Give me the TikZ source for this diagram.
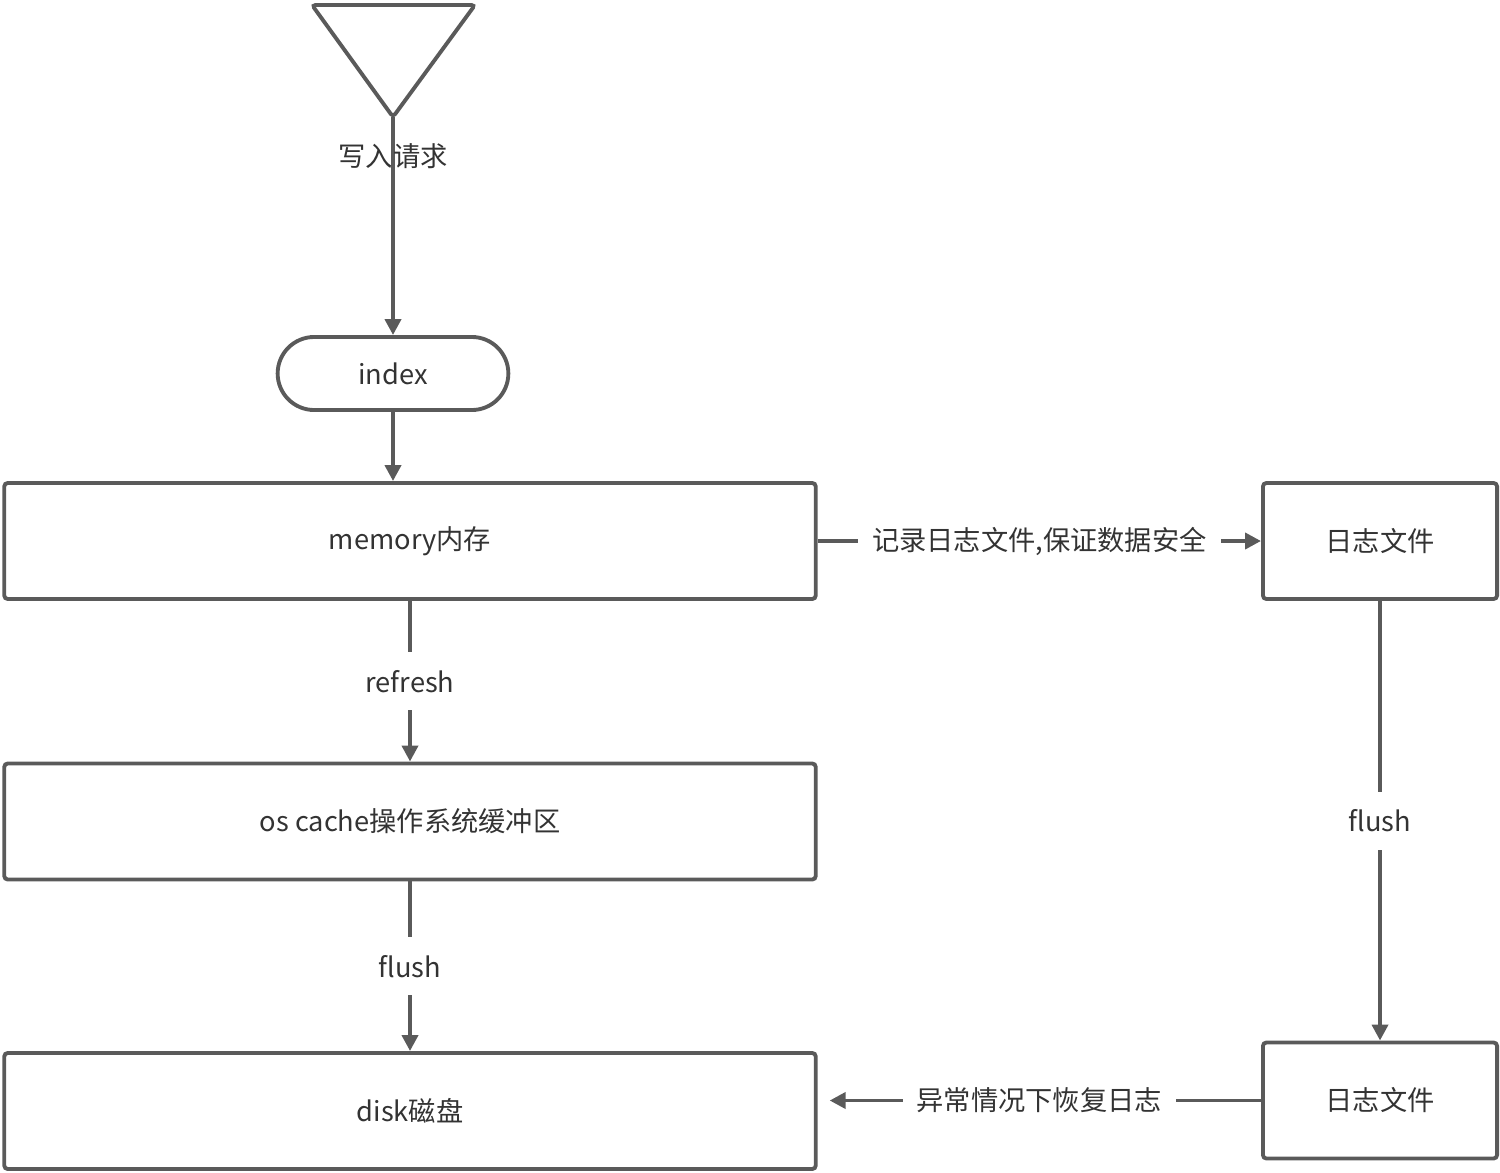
\documentclass[tikz,border=0pt]{standalone}
\usepackage{fontspec}
\setmainfont{Noto Sans CJK SC}
\usetikzlibrary{arrows.meta,shapes.misc}
\definecolor{linegray}{HTML}{5A5A5A}
\definecolor{textgray}{HTML}{333333}

\begin{document}
\begin{tikzpicture}[
    x=0.01cm,y=-0.01cm,
    box/.style={draw=linegray, line width=1.1pt, rounded corners=1pt, align=center,
      font=\fontsize{7.75}{9}\selectfont, text=textgray, minimum height=1.16cm},
    pill/.style={draw=linegray, line width=1.1pt, rounded rectangle, align=center,
      font=\fontsize{7.75}{9}\selectfont, text=textgray,
      minimum width=2.54cm, minimum height=0.73cm},
    outline/.style={draw=linegray, line width=1.1pt, rounded corners=1pt},
    edge/.style={-{Triangle[length=4.5pt,width=4.5pt]}, draw=linegray, line width=1.1pt},
    lbl/.style={font=\fontsize{7.75}{9}\selectfont, text=textgray},
    gap/.style={lbl, fill=white, inner xsep=4pt, inner ysep=5pt}
  ]
    \useasboundingbox (0,0) rectangle (1500,1173);

    % start of the request
    \draw[outline] (312,5) -- (475,5) -- (393,117) -- cycle;
    \coordinate (req) at (393,117);

    \node[pill] (index) at (393,373.5) {index};
    \node[box, minimum width=8.11cm] (mem) at (410,541) {memory内存};
    \node[box, minimum width=8.11cm] (cache) at (410,821.5) {os cache操作系统缓冲区};
    \node[box, minimum width=8.11cm] (disk) at (410,1111) {disk磁盘};
    \node[box, minimum width=2.34cm] (log1) at (1380,541) {日志文件};
    \node[box, minimum width=2.34cm] (log2) at (1380,1100.5) {日志文件};

    \draw[edge] (req) -- node[lbl, pos=0.18] {写入请求} (index.north);
    \draw[edge] (index.south) -- (index.south |- mem.north);
    \draw[edge] (mem) -- node[gap] {refresh} (cache);
    \draw[edge] (cache) -- node[gap] {flush} (disk);
    \draw[edge] (mem) -- node[gap] {记录日志文件,保证数据安全} (log1);
    \draw[edge] (log1) -- node[gap] {flush} (log2);
    \draw[edge, shorten >=0.12cm] (log2.west) -- node[gap] {异常情况下恢复日志} (log2 -| disk.east);
  \end{tikzpicture}
\end{document}
